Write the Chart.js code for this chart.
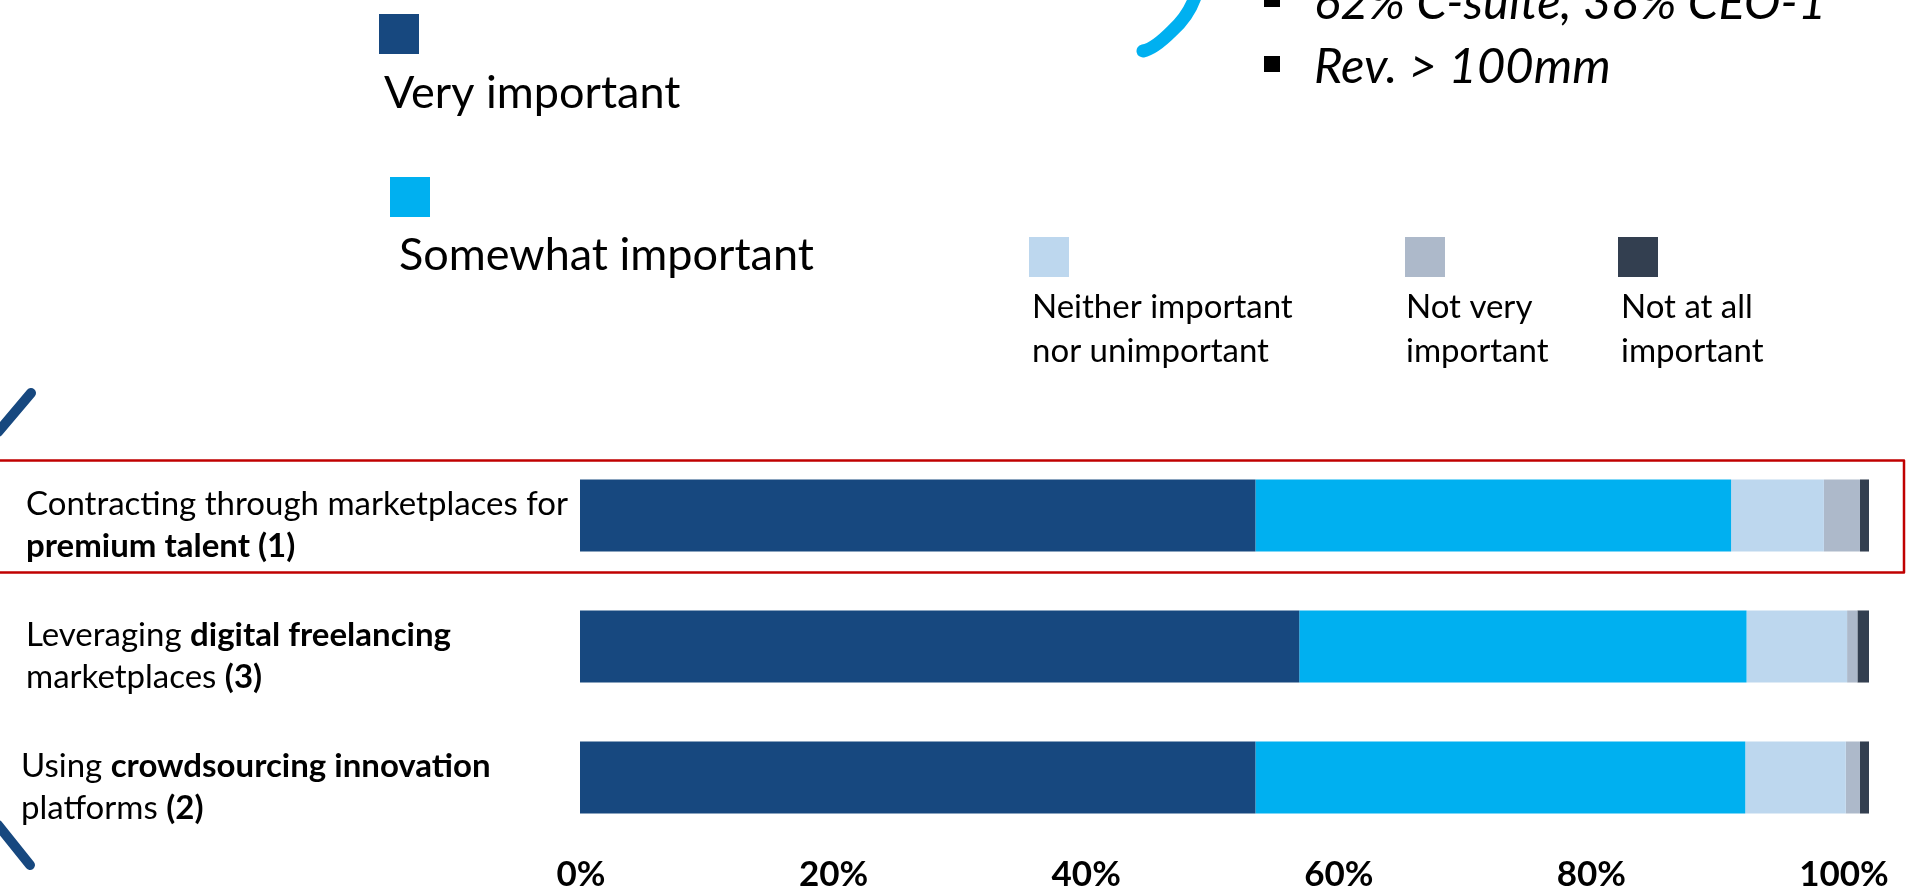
<!DOCTYPE html>
<html>
<head>
    <title>Importance of marketplace talent models</title>
    <style>
        body { margin: 0; padding: 0; background: #ffffff; overflow: hidden; }
        #chartBox { width: 1926px; height: 892px; overflow: hidden; }
    </style>
    <script src="https://cdn.jsdelivr.net/npm/chart.js"></script>
</head>
<body>

    <div id="chartBox">
        <canvas id="importanceChart" width="1926" height="892"></canvas>
    </div>

    <script>
        // ** marks the bold parts of each label line
        const categoryLines = [
            ['Contracting through marketplaces for', '**premium talent (1)**'],
            ['Leveraging **digital freelancing**', 'marketplaces **(3)**'],
            ['Using **crowdsourcing innovation**', 'platforms **(2)**']
        ];
        const categories = categoryLines.map(l => l.join(' ').replace(/\*\*/g, ''));

        const seriesNames = ['Very important', 'Somewhat important', 'Neither important nor unimportant', 'Not very important', 'Not at all important'];
        const veryImportant = [52.4, 55.8, 52.4];
        const somewhatImportant = [36.9, 34.7, 38.0];
        const neitherImportant = [7.2, 7.8, 7.8];
        const notVeryImportant = [2.8, 0.8, 1.1];
        const notAtAllImportant = [0.7, 0.9, 0.7];

        const tickValues = [0, 20, 40, 60, 80, 100];
        const tickLabels = ['0%', '20%', '40%', '60%', '80%', '100%'];

        const noteLines = ['62% C-suite, 38% CEO-1', 'Rev. > 100mm'];

        const colors = ['#17487f', '#00b0f0', '#bdd7ee', '#adb9ca', '#333f50'];
        const FONT = 'Lato, "Liberation Sans", sans-serif';

        // free-standing legend, bullets, decoration and the y labels
        const slidePlugin = {
            id: 'slide',
            beforeDraw(chart) {
                const ctx = chart.ctx;
                ctx.save();
                ctx.fillStyle = '#ffffff';
                ctx.fillRect(0, 0, chart.width, chart.height);
                ctx.restore();
            },
            afterDraw(chart) {
                const ctx = chart.ctx;
                const yScale = chart.scales.y;
                ctx.save();

                // decoration strokes
                ctx.lineCap = 'round';
                ctx.lineJoin = 'round';
                ctx.lineWidth = 13;
                ctx.strokeStyle = '#00b0f0';
                ctx.beginPath();
                ctx.moveTo(1198, -14);
                ctx.quadraticCurveTo(1193, 12, 1172, 31);
                ctx.quadraticCurveTo(1154, 49, 1143, 51);
                ctx.stroke();
                ctx.lineWidth = 10;
                ctx.strokeStyle = '#17487f';
                ctx.beginPath();
                ctx.moveTo(31, 393);
                ctx.lineTo(-2, 432);
                ctx.moveTo(-2, 825);
                ctx.lineTo(30, 865);
                ctx.stroke();

                // note bullets (top right)
                ctx.fillStyle = '#000000';
                ctx.textBaseline = 'alphabetic';
                ctx.textAlign = 'left';
                ctx.fillRect(1264, -9, 16, 16);
                ctx.fillRect(1264, 56, 16, 16);
                ctx.font = 'italic 49px ' + FONT;
                ctx.fillText(noteLines[0], 1314, 19);
                ctx.fillText(noteLines[1], 1314, 83);

                // legend
                const legend = [
                    { sq: [379, 14], tx: [384, 108], size: 45, split: 99 },
                    { sq: [390, 177], tx: [399, 270], size: 45, split: 99 },
                    { sq: [1029, 237], tx: [1032, 318], size: 33, split: 2 },
                    { sq: [1405, 237], tx: [1406, 318], size: 33, split: 2 },
                    { sq: [1618, 237], tx: [1621, 318], size: 33, split: 3 }
                ];
                legend.forEach((item, i) => {
                    ctx.fillStyle = colors[i];
                    ctx.fillRect(item.sq[0], item.sq[1], 40, 40);
                    ctx.fillStyle = '#000000';
                    ctx.font = item.size + 'px ' + FONT;
                    const words = seriesNames[i].split(' ');
                    const lines = [words.slice(0, item.split).join(' '), words.slice(item.split).join(' ')];
                    lines.forEach((t, k) => {
                        if (t) ctx.fillText(t, item.tx[0], item.tx[1] + k * 44);
                    });
                });

                // highlight box round the first row
                const c0 = yScale.getPixelForValue(0);
                ctx.strokeStyle = '#c00000';
                ctx.lineWidth = 2.5;
                ctx.strokeRect(-5, c0 - 55, 1909, 112);

                // category labels with bold runs
                const labelX = [26, 26, 21];
                categoryLines.forEach((lines, i) => {
                    const cy = yScale.getPixelForValue(i);
                    lines.forEach((line, k) => {
                        let x = labelX[i];
                        line.split('**').forEach((part, j) => {
                            ctx.font = (j % 2 ? 'bold ' : '') + '33px ' + FONT;
                            ctx.fillStyle = '#000000';
                            ctx.fillText(part, x, cy - 1 + k * 42);
                            x += ctx.measureText(part).width;
                        });
                    });
                });
                ctx.restore();
            }
        };

        const seriesData = [veryImportant, somewhatImportant, neitherImportant, notVeryImportant, notAtAllImportant];

        const ctx = document.getElementById('importanceChart').getContext('2d');
        new Chart(ctx, {
            type: 'bar',
            data: {
                labels: categories,
                datasets: seriesData.map((values, i) => ({
                    label: seriesNames[i],
                    data: values,
                    backgroundColor: colors[i],
                    borderWidth: 0,
                    categoryPercentage: 1,
                    barPercentage: 0.55
                }))
            },
            options: {
                indexAxis: 'y',
                responsive: false,
                animation: false,
                layout: {
                    padding: { left: 580, right: 57, top: 450, bottom: 0 }
                },
                plugins: {
                    legend: { display: false },
                    tooltip: { enabled: false }
                },
                scales: {
                    x: {
                        stacked: true,
                        min: 0,
                        max: 100,
                        display: false
                    },
                    xt: {
                        type: 'linear',
                        position: 'bottom',
                        min: -0.08,
                        max: 101.98,
                        grid: { display: false, drawTicks: false },
                        border: { display: false },
                        afterBuildTicks: axis => {
                            axis.ticks = tickValues.map(v => ({ value: v }));
                        },
                        afterFit: axis => {
                            axis.height = 49;
                        },
                        ticks: {
                            autoSkip: false,
                            maxRotation: 0,
                            padding: 11,
                            color: '#000000',
                            font: { family: FONT, size: 35, weight: 'bold' },
                            callback: (value, index) => tickLabels[index]
                        }
                    },
                    y: {
                        stacked: true,
                        display: false
                    }
                }
            },
            plugins: [slidePlugin]
        });
    </script>

</body>
</html>
